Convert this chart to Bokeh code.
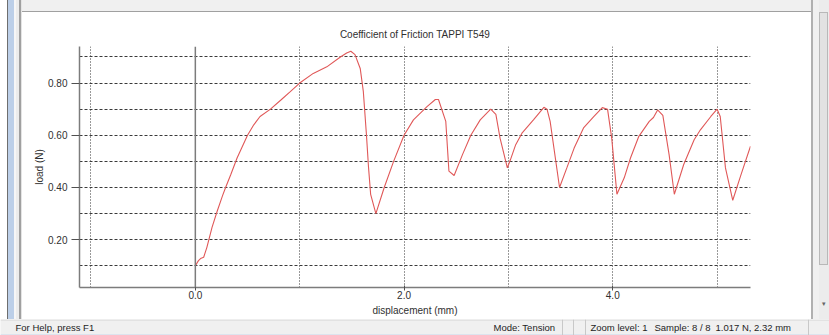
from bokeh.plotting import figure
from bokeh.models import FixedTicker, NumeralTickFormatter, Span, Label, Div
from bokeh.layouts import column, row
from bokeh.embed import file_html
from bokeh.resources import INLINE

# ---------------- data ----------------
displacement_mm = [0.0, 0.03, 0.05, 0.08, 0.11, 0.16, 0.21, 0.26, 0.29, 0.34, 0.40, 0.50, 0.56, 0.62,
                   0.72, 0.82, 0.91, 1.00, 1.13, 1.26, 1.39, 1.45, 1.49, 1.53, 1.58, 1.61, 1.64, 1.66,
                   1.68, 1.73, 1.81, 1.90, 2.00, 2.09, 2.22, 2.30, 2.33, 2.40, 2.43, 2.48, 2.56, 2.64,
                   2.73, 2.83, 2.88, 2.92, 2.99, 3.02, 3.07, 3.13, 3.24, 3.34, 3.37, 3.40, 3.49, 3.56,
                   3.63, 3.72, 3.82, 3.90, 3.95, 3.99, 4.04, 4.11, 4.17, 4.25, 4.35, 4.39, 4.43, 4.48,
                   4.54, 4.59, 4.68, 4.78, 4.84, 4.94, 5.00, 5.03, 5.08, 5.15, 5.23, 5.32]
load_N = [0.10, 0.12, 0.128, 0.133, 0.17, 0.247, 0.31, 0.368, 0.40, 0.45, 0.513, 0.60, 0.64, 0.672,
          0.70, 0.735, 0.767, 0.80, 0.837, 0.862, 0.90, 0.915, 0.922, 0.909, 0.856, 0.767, 0.60, 0.475,
          0.374, 0.30, 0.40, 0.50, 0.60, 0.659, 0.71, 0.737, 0.737, 0.653, 0.463, 0.446, 0.526, 0.60,
          0.659, 0.70, 0.68, 0.589, 0.475, 0.507, 0.564, 0.608, 0.659, 0.707, 0.70, 0.653, 0.40, 0.475,
          0.551, 0.628, 0.672, 0.706, 0.70, 0.589, 0.374, 0.437, 0.513, 0.596, 0.653, 0.668, 0.697, 0.676,
          0.526, 0.374, 0.488, 0.583, 0.621, 0.672, 0.70, 0.672, 0.475, 0.351, 0.45, 0.558]

title_text = "Coefficient of Friction TAPPI T549"
x_label = "displacement (mm)"
y_label = "load (N)"
x_tick_values = [0.0, 2.0, 4.0]
y_tick_values = [0.2, 0.4, 0.6, 0.8]
x_grid_values = [-1.0, 1.0, 2.0, 3.0, 4.0, 5.0]
y_grid_values = [0.1, 0.2, 0.3, 0.4, 0.5, 0.6, 0.7, 0.8, 0.9]
status_items = ["For Help, press F1", "Mode: Tension", "Zoom level: 1", "Sample: 8 / 8", "1.017 N, 2.32 mm"]

# ---------------- layout constants (page pixels) ----------------
PAGE_W, PAGE_H = 829, 335
LEFT_W, RIGHT_W = 22, 18
TOP_H, STATUS_H = 12, 16
MAIN_W = PAGE_W - LEFT_W - RIGHT_W
MAIN_H = PAGE_H - TOP_H - STATUS_H
FRAME_L, FRAME_R, FRAME_T, FRAME_B = 79, 750, 46, 287
FONT = "Liberation Sans"

# ---------------- main chart ----------------
p = figure(width=MAIN_W, height=MAIN_H, x_range=(-1.11, 5.32), y_range=(0.017, 0.94),
           output_backend="svg", toolbar_location=None,
           min_border_left=FRAME_L - LEFT_W, min_border_right=LEFT_W + MAIN_W - FRAME_R,
           min_border_top=FRAME_T - TOP_H, min_border_bottom=TOP_H + MAIN_H - FRAME_B,
           title=title_text, x_axis_label=x_label, y_axis_label=y_label)
p.border_fill_color = "white"
p.background_fill_color = "white"
p.outline_line_color = None

p.title.align = "center"
p.title.vertical_align = "top"
p.title.text_font = FONT
p.title.text_font_size = "10px"
p.title.text_font_style = "normal"
p.title.text_color = "#303030"
p.title.standoff = 10

xa = p.xaxis[0]
xa.ticker = FixedTicker(ticks=x_tick_values)
xa.formatter = NumeralTickFormatter(format="0.0")
ya = p.yaxis[0]
ya.ticker = FixedTicker(ticks=y_tick_values)
ya.formatter = NumeralTickFormatter(format="0.00")
for ax in (xa, ya):
    ax.axis_line_color = "#7c7c7c"
    ax.axis_line_width = 1.5
    ax.major_tick_line_color = "#505050"
    ax.minor_tick_line_color = None
    ax.major_label_text_font = FONT
    ax.major_label_text_font_size = "10px"
    ax.major_label_text_color = "#303030"
    ax.axis_label_text_font = FONT
    ax.axis_label_text_font_size = "10px"
    ax.axis_label_text_font_style = "normal"
    ax.axis_label_text_color = "#303030"
xa.major_tick_out = 3
xa.major_tick_in = 2
xa.major_label_standoff = 0
xa.axis_label_standoff = 3
ya.major_tick_out = 8
ya.major_tick_in = 0
ya.major_label_standoff = 4
ya.axis_label_standoff = 0

p.xgrid.ticker = FixedTicker(ticks=x_grid_values)
p.xgrid.grid_line_color = "#333333"
p.xgrid.grid_line_dash = "1 2"
p.xgrid.grid_line_width = 1
p.ygrid.ticker = FixedTicker(ticks=y_grid_values)
p.ygrid.grid_line_color = "#3a3a3a"
p.ygrid.grid_line_dash = "3 2"
p.ygrid.grid_line_width = 1

p.add_layout(Span(location=0, dimension="height", line_color="#7c7c7c", line_width=1.5))

p.line(displacement_mm, load_N, line_color="#e05858", line_width=1.1)

# ---------------- window chrome ----------------
left_div = Div(text="", width=LEFT_W, height=PAGE_H - STATUS_H, styles={
    "background": "linear-gradient(to right, #ffffff 0px, #ffffff 7px, #6e6e6e 7px, #6e6e6e 8px, "
                  "#bccfe8 8px, #bccfe8 14px, #f6f6f6 14px, #f6f6f6 16.5px, #ececec 16.5px, "
                  "#ececec 19.3px, #a0a0a0 19.3px, #a0a0a0 20.7px, #e4e4e4 20.7px, #e4e4e4 22px)",
    "margin": "0", "padding": "0"})
top_div = Div(text="", width=MAIN_W, height=TOP_H, styles={
    "background": "linear-gradient(to bottom, #f0f0f0 0px, #f0f0f0 10.7px, #a0a0a0 10.7px, "
                  "#a0a0a0 12px)",
    "margin": "0", "padding": "0"})
right_div = Div(
    text='<div style="position:absolute;left:8px;top:0;width:10px;height:319px;background:#ececec;"></div>'
         '<div style="position:absolute;left:8px;top:12px;width:9px;height:253px;background:#e2e2e2;'
         'border:1px solid #b8b8b8;box-sizing:border-box;"></div>'
         '<div style="position:absolute;left:8px;top:300px;width:10px;font:7px sans-serif;color:#666;'
         'text-align:center;">&#9662;</div>',
    width=RIGHT_W, height=PAGE_H - STATUS_H, styles={
        "background": "linear-gradient(to right, #b0b0b0 0px, #b0b0b0 2px, #f0f0f0 2px, #f0f0f0 8px)",
        "margin": "0", "padding": "0", "position": "relative", "overflow": "hidden"})

# status bar
s = figure(width=PAGE_W, height=STATUS_H, x_range=(0, PAGE_W), y_range=(0, STATUS_H),
           output_backend="svg", toolbar_location=None,
           min_border_left=0, min_border_right=0, min_border_top=0, min_border_bottom=0)
s.axis.visible = False
s.grid.visible = False
s.outline_line_color = None
s.background_fill_color = "#f0f0f0"
s.border_fill_color = "#f0f0f0"
s.add_layout(Span(location=STATUS_H - 0.5, dimension="width", line_color="#d4d4d4", line_width=1))
s.add_layout(Span(location=0.5, dimension="width", line_color="#c9d8ec", line_width=1))
for xs in (562, 573, 585, 808):
    s.add_layout(Span(location=xs, dimension="height", line_color="#c8c8c8", line_width=1))
for txt, xs in zip(status_items, (15, 493, 590, 654, 715)):
    s.add_layout(Label(x=xs, y=STATUS_H / 2 + 0.5, text=txt, text_font=FONT, text_font_size="9.5px",
                       text_color="#1e1e1e", text_baseline="middle", text_align="left"))

layout = column(row(left_div, column(top_div, p, spacing=0), right_div, spacing=0), s, spacing=0)

open("out.html", "w").write(file_html(layout, INLINE))
